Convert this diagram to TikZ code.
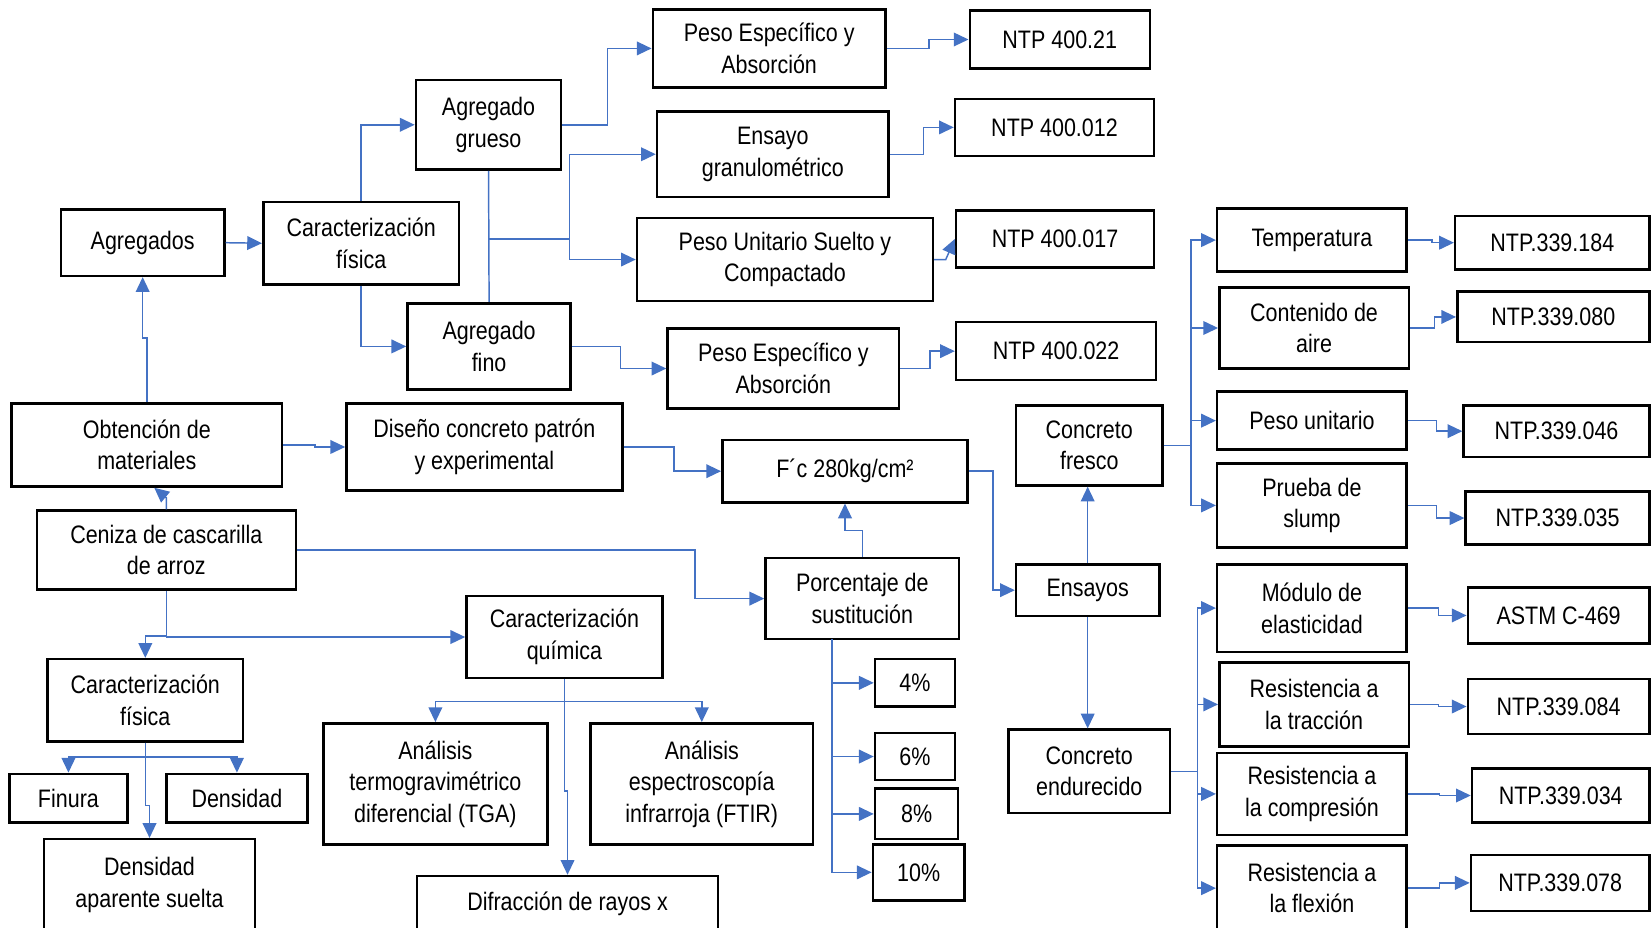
\documentclass[tikz,border=0pt]{standalone}
\usepackage{fontspec}
\setmainfont{Liberation Sans}[FakeStretch=0.85]
\usetikzlibrary{arrows.meta,calc}
\definecolor{link}{HTML}{4472C4}
\tikzset{
  box/.style={draw=black, line width=2.4pt, inner sep=0pt, align=center,
    font=\fontsize{24}{30}\selectfont},
  arr/.style={draw=link, line width=1.4pt, -{Triangle[length=14pt,width=13pt]}},
  lnk/.style={draw=link, line width=1.4pt},
}
% box given by its corners: name, x1, y1, x2, y2, text
\newcommand\mkbox[6]{\node[box, minimum width={#4-#2}, minimum height={#5-#3}]
  (#1) at ({(#2+#4)/2},{(#3+#5)/2+1.5}) {#6};}
\begin{document}
\begin{tikzpicture}[x=1pt,y=-1pt]
\useasboundingbox (0,0) rectangle (1568,881);

% ---- aggregates branch
\mkbox{pe1}{620}{7.5}{841}{81.5}{Peso Específico y\\Absorción}
\mkbox{n1}{921}{8.5}{1092}{63.5}{NTP 400.21}
\mkbox{agg}{395}{74.5}{533}{159.5}{Agregado\\grueso}
\mkbox{eg}{624}{104.5}{844}{185.5}{Ensayo\\granulométrico}
\mkbox{n2}{907}{92.5}{1096}{146.5}{NTP 400.012}
\mkbox{agr}{58}{197.5}{213}{260.5}{Agregados}
\mkbox{cf1}{250}{190.5}{436}{268.5}{Caracterización\\física}
\mkbox{pu}{605}{205.5}{886}{284.5}{Peso Unitario Suelto y\\Compactado}
\mkbox{n3}{908}{198.5}{1096}{252.5}{NTP 400.017}
\mkbox{agf}{387}{286.5}{542}{368.5}{Agregado\\fino}
\mkbox{pe2}{634}{310.5}{854}{386.5}{Peso Específico y\\Absorción}
\mkbox{n4}{908}{304.5}{1098}{359.5}{NTP 400.022}

% ---- main line
\mkbox{obt}{11}{381.5}{268}{460.5}{Obtención de\\materiales}
\mkbox{dis}{329}{381.5}{591}{464.5}{Diseño concreto patrón\\y experimental}
\mkbox{fc}{686}{416.5}{919}{475.5}{F´c 280kg/cm²}
\mkbox{cen}{35}{483.5}{281}{558.5}{Ceniza de cascarilla\\de arroz}
\mkbox{pct}{727}{528.5}{911}{605.5}{Porcentaje de\\sustitución}
\mkbox{ens}{965}{534.5}{1101}{583.5}{Ensayos}

% ---- ash characterisation
\mkbox{cq}{443}{564.5}{629}{642.5}{Caracterización\\química}
\mkbox{cf2}{45}{624.5}{231}{702.5}{Caracterización\\física}
\mkbox{tga}{307}{685.5}{520}{800.5}{Análisis\\termogravimétrico\\diferencial (TGA)}
\mkbox{ftir}{561}{685.5}{772}{800.5}{Análisis\\espectroscopía\\infrarroja (FTIR)}
\mkbox{fin}{9}{733.5}{121}{779.5}{Finura}
\mkbox{den}{158}{733.5}{292}{779.5}{Densidad}
\mkbox{das}{42}{795.5}{242}{882.5}{Densidad\\aparente suelta}
\mkbox{dif}{396}{830.5}{682}{882.5}{Difracción de rayos x}

% ---- replacement percentages
\mkbox{p4}{831}{624.5}{907}{669.5}{4\%}
\mkbox{p6}{831}{694.5}{907}{739.5}{6\%}
\mkbox{p8}{831}{747.5}{910}{795.5}{8\%}
\mkbox{p10}{829}{800.5}{916}{853.5}{10\%}

% ---- tests
\mkbox{cfr}{965}{383.5}{1104}{459.5}{Concreto\\fresco}
\mkbox{cend}{958}{691.5}{1111}{770.5}{Concreto\\endurecido}
\mkbox{tem}{1156}{196.5}{1336}{256.5}{Temperatura}
\mkbox{con}{1158}{271.5}{1338}{348.5}{Contenido de\\aire}
\mkbox{pun}{1156}{370.5}{1336}{425.5}{Peso unitario}
\mkbox{slu}{1156}{438.5}{1336}{518.5}{Prueba de\\slump}
\mkbox{mod}{1156}{534.5}{1336}{617.5}{Módulo de\\elasticidad}
\mkbox{tra}{1158}{627.5}{1338}{707.5}{Resistencia a\\la tracción}
\mkbox{com}{1156}{713.5}{1336}{791.5}{Resistencia a\\la compresión}
\mkbox{fle}{1156}{801.5}{1336}{882.5}{Resistencia a\\la flexión}
\mkbox{m1}{1382}{203.5}{1566.5}{254.5}{NTP.339.184}
\mkbox{m2}{1384}{275.5}{1566.5}{323.5}{NTP.339.080}
\mkbox{m3}{1390}{383.5}{1566.5}{432.5}{NTP.339.046}
\mkbox{m4}{1392}{465.5}{1566.5}{515.5}{NTP.339.035}
\mkbox{m5}{1394}{556.5}{1566.5}{609.5}{ASTM C-469}
\mkbox{m6}{1394}{643.5}{1566.5}{695.5}{NTP.339.084}
\mkbox{m7}{1398}{728.5}{1566.5}{779.5}{NTP.339.034}
\mkbox{m8}{1397}{810.5}{1566.5}{863.5}{NTP.339.078}

% ---- junction points
\coordinate (j1) at (464,227);
\coordinate (j2) at (541,227);
\coordinate (j3) at (158,604);
\coordinate (j4) at (536,666);
\coordinate (j5) at (138,719);
\coordinate (pv) at (790,607);

% ---- aggregate connectors
\draw[arr] (agr.east) -- (cf1.west);
\draw[arr] (cf1.north) |- (agg.west);
\draw[arr] (cf1.south) |- (agf.west);
\draw[arr] (agg.east) -- ++(43,0) |- (pe1.west);
\draw[lnk] (agg.south) -- (agf.north);
\draw[lnk] (j1) -- (j2);
\draw[arr] (j2) |- (eg.west);
\draw[arr] (j2) |- (pu.west);
\draw[arr] (agf.east) -- ++(46,0) |- (pe2.west);
\draw[arr] (pe1.east) -- ++(40,0) |- (n1.west);
\draw[arr] (eg.east) -- ++(32,0) |- (n2.west);
\draw[arr] (pu.east) -- ++(11,0) -- (n3.west);
\draw[arr] (pe2.east) -- ++(28,0) |- (n4.west);

% ---- main line connectors
\draw[arr] (obt.north) -- ++(0,-61) -| (agr.south);
\draw[arr] (obt.east) -- ++(30,0) |- (dis.west);
\draw[arr] (dis.east) -- ++(48,0) |- (fc.west);
\draw[arr] (cen.north) -- ++(0,-11) -- ($(obt.south)+(7,0)$);
\draw[arr] (cen.east) -- ++(378,0) |- (pct.west);
\draw[arr] (pct.north) -- ++(0,-25) -| (fc.south);
\draw[arr] (fc.east) -- ++(23,0) |- (ens.west);
\draw[arr] (ens.north) -- (ens.north |- cfr.south);
\draw[arr] (ens.south) -- (ens.south |- cend.north);

% ---- ash characterisation connectors
\draw[lnk] (cen.south) -- (j3);
\draw[arr] (j3) |- (cq.west);
\draw[arr] (j3) -| (cf2.north);
\draw[lnk] (cq.south) -- (j4);
\draw[arr] (j4) -| (tga.north);
\draw[arr] (j4) -| (ftir.north);
\draw[arr] (cq.south) -- ++(0,106) -| (dif.north);
\draw[lnk] (cf2.south) -- (j5);
\draw[arr] (j5) -| (fin.north);
\draw[arr] (j5) -| (den.north);
\draw[arr] (cf2.south) -- ++(0,60) -| (das.north);

% ---- percentages
\draw[arr] (pv) |- (p4.west);
\draw[arr] (pv) |- (p6.west);
\draw[arr] (pv) |- (p8.west);
\draw[arr] (pv) |- (p10.west);

% ---- fresh concrete tests
\draw[lnk] (cfr.east) -- ++(26,0) coordinate (j6);
\foreach \t in {tem,con,pun,slu} \draw[arr] (j6) |- (\t.west);
\draw[arr] (tem.east) -- ++(23,0) |- (m1.west);
\draw[arr] (con.east) -- ++(23,0) |- (m2.west);
\draw[arr] (pun.east) -- ++(27,0) |- (m3.west);
\draw[arr] (slu.east) -- ++(27,0) |- (m4.west);

% ---- hardened concrete tests
\draw[lnk] (cend.east) -- ++(25,0) coordinate (j7);
\foreach \t in {mod,tra,com,fle} \draw[arr] (j7) |- (\t.west);
\draw[arr] (mod.east) -- ++(29,0) |- (m5.west);
\draw[arr] (tra.east) -- ++(27,0) |- (m6.west);
\draw[arr] (com.east) -- ++(30,0) |- (m7.west);
\draw[arr] (fle.east) -- ++(30,0) |- (m8.west);
\end{tikzpicture}
\end{document}
